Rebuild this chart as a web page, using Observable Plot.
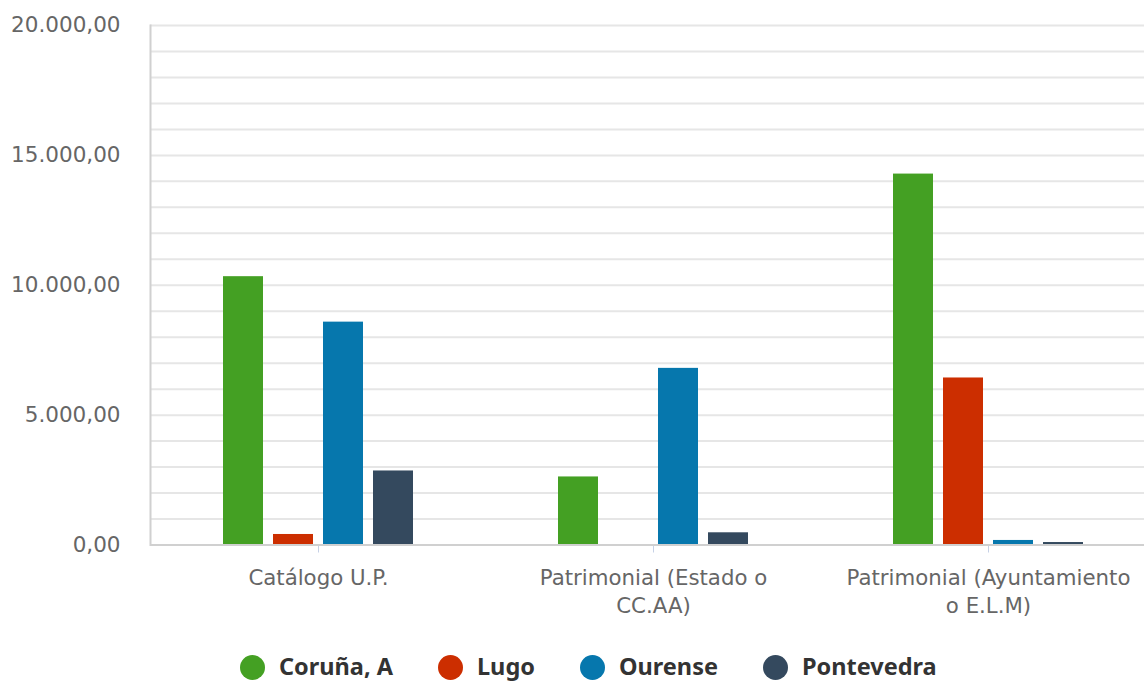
<!DOCTYPE html>
<html>
<head>
<meta charset="utf-8">
<script src="https://cdn.jsdelivr.net/npm/d3@7"></script>
<script src="https://cdn.jsdelivr.net/npm/@observablehq/plot@0.6"></script>
<style>
  html, body { margin: 0; padding: 0; background: #fff; }
  #wrap { width: 1144px; height: 683px; overflow: hidden; position: relative; }
  #chart { position: relative; width: 1156px; height: 645px; }
  #chart svg { display: block; position: absolute; left: 0; top: 0; }
  #legend { display: flex; align-items: center; padding-left: 240px; padding-top: 9px; height: 26px;
            font-family: "Noto Sans", sans-serif; font-weight: bold; font-size: 23.5px; line-height: 1; color: #333; }
  .item { display: flex; align-items: center; margin-right: 45px; }
  .dot { width: 25px; height: 25px; border-radius: 50%; margin-right: 14px; }
</style>
</head>
<body>
<div id="wrap">
  <div id="chart"></div>
  <div id="legend"></div>
</div>
<script>
const categories = ["Catálogo U.P.", "Patrimonial (Estado o CC.AA)", "Patrimonial (Ayuntamiento o E.L.M)"];
const categoryLabels = ["Catálogo U.P.", "Patrimonial (Estado o\nCC.AA)", "Patrimonial (Ayuntamiento\no E.L.M)"];
const provinces = ["Coruña, A", "Lugo", "Ourense", "Pontevedra"];
const coruna = [10330, 2620, 14280];
const lugo = [405, 0, 6430];
const ourense = [8580, 6800, 175];
const pontevedra = [2850, 470, 95];
const colors = ["#44a023", "#cc2e00", "#0677ad", "#34495e"];
const yTicks = [0, 5000, 10000, 15000, 20000];
const gridTicks = d3.range(0, 20001, 1000);

const series = [coruna, lugo, ourense, pontevedra];
const data = [];
categories.forEach((c, i) => provinces.forEach((p, j) => data.push({category: c, province: p, value: series[j][i]})));

const locale = d3.formatLocale({decimal: ",", thousands: ".", grouping: [3], currency: ["", "€"]});
const fmt = locale.format(",.2f");

const H = 645;
const common = {
  width: 1156,
  height: H,
  marginLeft: 150,
  marginRight: 0,
  marginTop: 25,
  marginBottom: H - 544.5,
  style: {fontFamily: "DejaVu Sans, sans-serif", background: "transparent"}
};
const bandOpts = {paddingInner: 0.403, paddingOuter: 0.2};

// background: grid, axes
const back = Plot.plot({
  ...common,
  x: {domain: categories, ...bandOpts, axis: null},
  y: {domain: [0, 20000], axis: null},
  marks: [
    Plot.ruleY(gridTicks, {y: d => d, stroke: "#e6e6e6", strokeWidth: 2}),
    Plot.frame({anchor: "left", stroke: "#d0d0d0", strokeWidth: 2}),
    Plot.axisY(yTicks, {anchor: "left", tickSize: 0, tickPadding: 30, fill: "#666", fontSize: 21.5,
      tickFormat: d => fmt(d), label: null}),
    Plot.axisX({anchor: "bottom", tickSize: 8, tickPadding: 12, stroke: "#c6d1e6", fill: "#666",
      fontSize: 21.3, lineHeight: 1.32, label: null,
      tickFormat: d => categoryLabels[categories.indexOf(d)]})
  ]
});

// foreground: grouped bars
const front = Plot.plot({
  ...common,
  fx: {domain: categories, ...bandOpts, axis: null, label: null},
  x: {domain: provinces, paddingInner: 0.2, paddingOuter: 0.1, axis: null},
  y: {domain: [0, 20000], axis: null},
  color: {domain: provinces, range: colors},
  marks: [
    Plot.barY(data, {fx: "category", x: "province", y: "value", fill: "province"})
  ]
});

// baseline on top
const base = Plot.plot({
  ...common,
  y: {domain: [0, 20000], axis: null},
  marks: [Plot.ruleY([0], {stroke: "#d0d0d0", strokeWidth: 2})]
});

const el = document.getElementById("chart");
el.appendChild(back);
el.appendChild(front);
el.appendChild(base);

const legend = document.getElementById("legend");
provinces.forEach((p, i) => {
  const item = document.createElement("div");
  item.className = "item";
  const dot = document.createElement("span");
  dot.className = "dot";
  dot.style.background = colors[i];
  const label = document.createElement("span");
  label.textContent = p;
  item.appendChild(dot);
  item.appendChild(label);
  legend.appendChild(item);
});
</script>
</body>
</html>
